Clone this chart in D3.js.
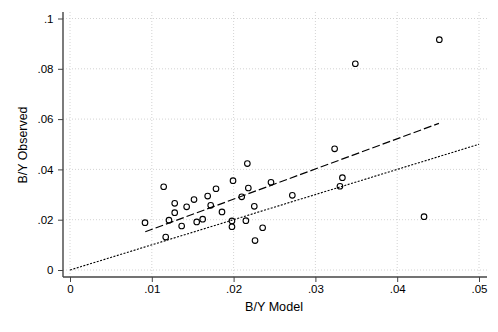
<!DOCTYPE html>
<html><head><meta charset="utf-8">
<script src="https://cdn.jsdelivr.net/npm/d3@7"></script>
<style>body{margin:0;background:#fff}svg{display:block}</style>
</head><body>
<svg id="c" width="498" height="332"></svg>
<script>
const modelX = [0.00917,0.01145,0.0117,0.0121,0.0128,0.0128,0.01365,0.01426,0.01516,0.01549,0.01622,0.01683,0.0172,0.01785,0.01858,0.01993,0.0198,0.0198,0.02099,0.0215,0.02168,0.0218,0.02253,0.02262,0.02355,0.02457,0.02718,0.0330,0.0333,0.03235,0.03488,0.04328,0.04515];
const observedY = [0.0188,0.0331,0.0131,0.0198,0.0265,0.0228,0.0175,0.0251,0.0280,0.0191,0.0202,0.0294,0.0257,0.0323,0.0231,0.0355,0.0195,0.0172,0.0291,0.0196,0.0423,0.0326,0.0253,0.0117,0.0168,0.0349,0.0297,0.0333,0.0367,0.0482,0.0820,0.0212,0.0916];
const fitX = [0.0092, 0.0451];
const fitY = [0.0152, 0.0583];
const refX = [0, 0.05];
const refY = [0, 0.05];
const xTicks = [0,0.01,0.02,0.03,0.04,0.05];
const xTickLabels = ["0",".01",".02",".03",".04",".05"];
const yTicks = [0,0.02,0.04,0.06,0.08,0.1];
const yTickLabels = ["0",".02",".04",".06",".08",".1"];

const svg = d3.select("#c");
const x = d3.scaleLinear().domain([0,0.05]).range([70,479]);
const y = d3.scaleLinear().domain([0,0.1]).range([270,18.5]);
const pLeft = 63, pBottom = 277, pRight = 487, pTop = 12;
const font = "'Liberation Sans', Arial, Helvetica, sans-serif";

// grid
const g = svg.append("g");
g.selectAll(".hg").data(yTicks).join("line")
  .attr("x1", pLeft).attr("x2", pRight)
  .attr("y1", d=>y(d)).attr("y2", d=>y(d))
  .attr("stroke","#c8c8c8").attr("stroke-width",0.8).attr("stroke-dasharray","1,2");
g.selectAll(".vg").data(xTicks).join("line")
  .attr("y1", pTop).attr("y2", pBottom)
  .attr("x1", d=>x(d)).attr("x2", d=>x(d))
  .attr("stroke","#c8c8c8").attr("stroke-width",0.8).attr("stroke-dasharray","1,2");

// reference line (45 degree)
const line = d3.line().x(d=>x(d[0])).y(d=>y(d[1]));
svg.append("path").datum(refX.map((v,i)=>[v,refY[i]]))
  .attr("d", line).attr("fill","none").attr("stroke","#000").attr("stroke-width",1.1)
  .attr("stroke-dasharray","2,1.5");
// fitted line
svg.append("path").datum(fitX.map((v,i)=>[v,fitY[i]]))
  .attr("d", line).attr("fill","none").attr("stroke","#000").attr("stroke-width",1.2)
  .attr("stroke-dasharray","8,3");

// points
svg.selectAll(".pt").data(modelX.map((v,i)=>[v,observedY[i]])).join("circle")
  .attr("cx", d=>x(d[0])).attr("cy", d=>y(d[1])).attr("r", 2.8)
  .attr("fill","none").attr("stroke","#000").attr("stroke-width",1.1);

// axes
const xAxis = d3.axisBottom(x).tickValues(xTicks).tickFormat((d,i)=>xTickLabels[i]).tickSize(5).tickSizeOuter(0);
const ax = svg.append("g").attr("transform",`translate(0,${pBottom})`).call(xAxis);
ax.select(".domain").remove();
ax.append("line").attr("x1",pLeft).attr("x2",pRight).attr("stroke","#444").attr("stroke-width",1.4);
ax.selectAll(".tick line").attr("stroke","#444").attr("stroke-width",1);
ax.selectAll(".tick text").attr("fill","#000").style("font-family",font).style("font-size","11.5px")
  .attr("y",16.3).attr("dy",null);

const yAxis = d3.axisLeft(y).tickValues(yTicks).tickFormat((d,i)=>yTickLabels[i]).tickSize(5).tickSizeOuter(0);
const ay = svg.append("g").attr("transform",`translate(${pLeft},0)`).call(yAxis);
ay.select(".domain").remove();
ay.append("line").attr("y1",pTop).attr("y2",pBottom).attr("stroke","#444").attr("stroke-width",1.4);
ay.selectAll(".tick line").attr("stroke","#444").attr("stroke-width",1);
ay.selectAll(".tick text").attr("fill","#000").style("font-family",font).style("font-size","11.5px").attr("x",-9.5);

svg.append("text").attr("x", 274).attr("y", 310.5).attr("text-anchor","middle")
  .style("font-family",font).style("font-size","12.6px").text("B/Y Model");
svg.append("text").attr("transform","translate(26.5,145) rotate(-90)").attr("text-anchor","middle")
  .style("font-family",font).style("font-size","12.4px").text("B/Y Observed");
</script>
</body></html>
